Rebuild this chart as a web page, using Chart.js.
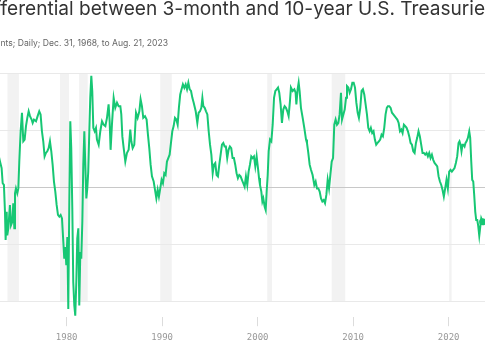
<!DOCTYPE html>
<html>
<head>
<meta charset="utf-8">
<script src="https://cdn.jsdelivr.net/npm/chart.js@4"></script>
<style>
  html, body { margin: 0; padding: 0; background: #fff; }
  body { width: 485px; height: 360px; overflow: hidden; position: relative; }
  #title { position: absolute; top: -1px; white-space: nowrap; font-family: Inter, sans-serif; font-size: 19.1px; line-height: 19px; color: #333; }
  #subtitle { position: absolute; top: 38.5px; white-space: nowrap; font-family: Inter, sans-serif; font-size: 8.6px; line-height: 9px; color: #666; }
  #chart { position: absolute; left: 0; top: 0; }
</style>
</head>
<body>
<canvas id="chart" width="485" height="360"></canvas>
<div id="title"><span id="cut1">Yield dif</span>ferential between 3-month and 10-year U.S. Treasuries</div>
<div id="subtitle"><span id="cut2">Percentage poi</span>nts; Daily; Dec. 31, 1968, to Aug. 21, 2023</div>
<script>
// 10-year minus 3-month spread, percentage points
var years = [
  1972.85, 1973.02, 1973.19, 1973.30, 1973.43, 1973.54, 1973.61, 1973.72, 1973.78, 1973.89,
  1974.06, 1974.17, 1974.31, 1974.41, 1974.52, 1974.59, 1974.69, 1974.83, 1974.94, 1975.04,
  1975.18, 1975.32, 1975.46, 1975.60, 1975.74, 1975.88, 1976.02, 1976.16, 1976.33, 1976.44,
  1976.58, 1976.79, 1976.96, 1977.13, 1977.27, 1977.41, 1977.55, 1977.69, 1977.83, 1977.97,
  1978.11, 1978.25, 1978.39, 1978.53, 1978.67, 1978.81, 1978.95, 1979.09, 1979.23, 1979.37,
  1979.51, 1979.65, 1979.75, 1979.86, 1979.96, 1980.07, 1980.17, 1980.28, 1980.38, 1980.48,
  1980.59, 1980.69, 1980.80, 1980.90, 1981.01, 1981.11, 1981.22, 1981.32, 1981.43, 1981.53,
  1981.64, 1981.74, 1981.85, 1981.95, 1982.06, 1982.16, 1982.26, 1982.37, 1982.47, 1982.58,
  1982.68, 1982.79, 1982.93, 1983.07, 1983.17, 1983.35, 1983.52, 1983.70, 1983.87, 1984.05,
  1984.22, 1984.39, 1984.50, 1984.60, 1984.74, 1984.92, 1985.09, 1985.27, 1985.44, 1985.62,
  1985.72, 1985.83, 1985.97, 1986.14, 1986.31, 1986.49, 1986.66, 1986.77, 1986.91, 1987.08,
  1987.26, 1987.43, 1987.61, 1987.74, 1987.88, 1988.02, 1988.20, 1988.37, 1988.51, 1988.65,
  1988.79, 1988.93, 1989.11, 1989.25, 1989.39, 1989.53, 1989.66, 1989.80, 1989.94, 1990.08,
  1990.22, 1990.36, 1990.50, 1990.64, 1990.78, 1990.92, 1991.06, 1991.20, 1991.34, 1991.48,
  1991.62, 1991.75, 1991.89, 1992.03, 1992.17, 1992.32, 1992.46, 1992.60, 1992.74, 1992.88,
  1993.02, 1993.16, 1993.30, 1993.51, 1993.68, 1993.82, 1993.96, 1994.10, 1994.21, 1994.31,
  1994.45, 1994.59, 1994.73, 1994.87, 1995.01, 1995.15, 1995.29, 1995.42, 1995.56, 1995.70,
  1995.84, 1995.98, 1996.12, 1996.26, 1996.40, 1996.54, 1996.67, 1996.81, 1996.95, 1997.09,
  1997.23, 1997.37, 1997.51, 1997.65, 1997.79, 1997.93, 1998.07, 1998.21, 1998.35, 1998.49,
  1998.63, 1998.77, 1998.91, 1999.05, 1999.19, 1999.33, 1999.47, 1999.61, 1999.75, 1999.89,
  2000.03, 2000.14, 2000.24, 2000.38, 2000.49, 2000.59, 2000.73, 2000.84, 2000.94, 2001.05,
  2001.15, 2001.29, 2001.43, 2001.57, 2001.71, 2001.85, 2001.99, 2002.13, 2002.26, 2002.40,
  2002.54, 2002.68, 2002.82, 2002.96, 2003.10, 2003.24, 2003.38, 2003.48, 2003.66, 2003.84,
  2003.97, 2004.05, 2004.18, 2004.29, 2004.39, 2004.53, 2004.71, 2004.88, 2005.06, 2005.16,
  2005.30, 2005.44, 2005.58, 2005.75, 2005.93, 2006.07, 2006.21, 2006.35, 2006.49, 2006.63,
  2006.77, 2006.91, 2007.05, 2007.19, 2007.33, 2007.47, 2007.61, 2007.75, 2007.89, 2008.02,
  2008.16, 2008.30, 2008.44, 2008.58, 2008.72, 2008.83, 2008.97, 2009.11, 2009.25, 2009.35,
  2009.49, 2009.63, 2009.77, 2009.91, 2010.05, 2010.19, 2010.33, 2010.47, 2010.60, 2010.74,
  2010.88, 2011.02, 2011.16, 2011.30, 2011.44, 2011.58, 2011.72, 2011.85, 2011.99, 2012.13,
  2012.27, 2012.41, 2012.55, 2012.69, 2012.83, 2012.97, 2013.11, 2013.25, 2013.39, 2013.52,
  2013.63, 2013.78, 2013.92, 2014.06, 2014.20, 2014.34, 2014.48, 2014.62, 2014.76, 2014.90,
  2015.04, 2015.17, 2015.31, 2015.45, 2015.59, 2015.73, 2015.87, 2016.01, 2016.15, 2016.29,
  2016.43, 2016.57, 2016.70, 2016.84, 2016.98, 2017.12, 2017.26, 2017.40, 2017.54, 2017.68,
  2017.82, 2017.96, 2018.10, 2018.24, 2018.38, 2018.52, 2018.66, 2018.80, 2018.94, 2019.08,
  2019.22, 2019.35, 2019.49, 2019.63, 2019.77, 2019.91, 2020.05, 2020.19, 2020.33, 2020.47,
  2020.61, 2020.75, 2020.89, 2021.03, 2021.13, 2021.24, 2021.34, 2021.45, 2021.55, 2021.66,
  2021.76, 2021.87, 2022.01, 2022.15, 2022.25, 2022.36, 2022.46, 2022.57, 2022.67, 2022.78,
  2022.88, 2022.99, 2023.09, 2023.20, 2023.30, 2023.41, 2023.55
];
var spread = [
  1.15, 0.90, 0.67, 0.14, 0.08, -0.86, -1.85, -0.86, -1.68, -1.44,
  -0.62, -1.33, -1.21, -0.56, -1.44, -0.21, -0.04, -0.21, -0.04, 0.90,
  1.96, 2.61, 1.61, 1.67, 2.14, 2.43, 2.66, 2.49, 2.37, 2.25,
  2.37, 2.31, 2.49, 2.66, 2.55, 1.96, 1.61, 1.08, 1.20, 1.26,
  1.37, 1.61, 1.26, 0.79, 0.20, -0.15, -0.62, -0.97, -1.03, -0.97,
  -1.09, -1.91, -2.50, -2.09, -2.73, -1.74, -4.26, -0.39, 2.31, 1.37,
  -0.74, -3.32, -4.14, -4.50, -3.32, -1.80, -1.44, -4.14, -2.27, -2.50,
  -1.21, 0.79, 1.96, 0.79, -0.39, -0.04, 0.55, 1.96, 3.13, 3.90,
  3.37, 2.08, 1.96, 2.08, 1.67, 1.49, 1.96, 2.31, 2.19, 2.14,
  2.43, 2.90, 2.31, 1.31, 2.19, 3.13, 2.78, 2.96, 2.84, 2.84,
  2.55, 1.78, 1.37, 0.90, 1.20, 1.31, 2.02, 1.61, 1.37, 1.49,
  2.61, 2.43, 2.66, 3.08, 2.84, 2.43, 2.49, 2.37, 1.84, 1.37,
  0.79, 0.38, 0.20, -0.09, -0.39, -0.09, -0.33, -0.04, 0.26, 0.14,
  0.49, 0.43, 0.90, 1.02, 1.14, 1.55, 1.96, 2.14, 2.43, 2.37,
  2.19, 2.78, 3.25, 3.43, 3.60, 3.48, 3.60, 3.43, 3.66, 3.43,
  3.37, 3.13, 2.96, 2.66, 2.25, 2.61, 2.66, 2.78, 3.13, 2.84,
  2.78, 2.66, 2.55, 1.96, 1.49, 1.14, 0.49, 0.79, 0.85, 0.43,
  0.38, 0.79, 1.14, 1.49, 1.55, 1.43, 1.43, 1.02, 1.31, 1.43,
  1.37, 1.02, 1.02, 0.79, 0.49, 0.32, 0.43, 0.38, 0.26, 0.14,
  0.02, 0.38, 0.08, 0.55, 0.79, 1.08, 1.02, 1.08, 0.73, 1.08,
  0.67, 0.32, 0.08, -0.15, -0.50, -0.39, -0.68, -0.80, -0.15, 0.43,
  1.26, 1.67, 1.61, 2.19, 3.13, 3.37, 3.43, 3.49, 3.31, 2.90,
  2.25, 2.72, 2.84, 2.78, 2.66, 2.49, 3.02, 3.49, 3.37, 3.43,
  3.31, 2.90, 3.43, 3.66, 3.37, 2.78, 2.43, 2.08, 1.67, 1.55,
  1.20, 0.79, 0.61, 0.43, 0.08, 0.20, -0.04, -0.04, -0.15, -0.39,
  -0.50, -0.45, -0.56, -0.27, 0.26, -0.04, 0.43, 0.90, 1.02, 2.19,
  2.37, 2.19, 2.25, 2.55, 3.31, 2.37, 2.55, 2.72, 3.13, 3.54,
  3.49, 3.31, 3.43, 3.66, 3.66, 3.49, 2.96, 2.61, 2.43, 2.78,
  3.37, 3.43, 3.25, 2.90, 2.55, 2.08, 1.96, 2.08, 1.90, 1.96,
  1.67, 1.49, 1.55, 1.61, 1.67, 1.84, 1.78, 2.08, 2.55, 2.78,
  2.84, 2.84, 2.78, 2.61, 2.55, 2.49, 2.43, 2.37, 2.25, 1.96,
  2.02, 1.90, 2.19, 2.14, 2.08, 1.96, 1.78, 1.55, 1.49, 1.26,
  1.20, 1.55, 1.73, 1.96, 1.78, 1.49, 1.20, 1.20, 1.14, 1.20,
  1.08, 1.20, 1.02, 1.14, 0.96, 0.85, 0.79, 0.73, 0.38, 0.20,
  0.08, -0.09, -0.33, -0.04, 0.26, -0.04, 0.55, 0.61, 0.55, 0.61,
  0.67, 0.85, 1.08, 1.55, 1.61, 1.49, 1.26, 1.49, 1.49, 1.43,
  1.55, 1.61, 1.73, 1.96, 1.73, 0.90, 0.26, 0.20, -0.27, -0.86,
  -1.15, -1.15, -1.35, -1.70, -1.40, -1.09, -1.21
];
// recessions (shaded)
var recStart = [1973.8, 1979.3, 1981.3, 1989.8, 2001.0, 2007.75, 2020.05];
var recEnd   = [1975.0, 1980.25, 1982.2, 1991.0, 2001.5, 2009.17, 2020.3];
var tickYears = [1980, 1990, 2000, 2010, 2020];
var gridVals = [-4, -2, 0, 2, 4];

var GREEN = "#17c774";

// push the cut-off parts of the heading outside the picture
document.getElementById("title").style.left = (1 - document.getElementById("cut1").offsetWidth) + "px";
document.getElementById("subtitle").style.left = (0 - document.getElementById("cut2").offsetWidth) + "px";

var points = years.map(function (yr, i) { return { x: yr, y: spread[i] }; });
var last = points.length - 1;

var bands = {
  id: "bands",
  beforeDraw: function (chart) {
    var c = chart.ctx, x = chart.scales.x, y = chart.scales.y;
    var top = y.getPixelForValue(gridVals[gridVals.length - 1]);
    var bot = y.getPixelForValue(gridVals[0]);
    c.save();
    c.fillStyle = "#f2f2f2";
    for (var i = 0; i < recStart.length; i++) {
      var x0 = x.getPixelForValue(recStart[i]);
      var x1 = x.getPixelForValue(recEnd[i]);
      c.fillRect(x0, top, x1 - x0, bot - top);
    }
    c.restore();
  }
};

var ctx = document.getElementById("chart").getContext("2d");
var myChart = new Chart(ctx, {
  type: "line",
  data: {
    datasets: [
      {
        data: points,
        borderColor: GREEN,
        borderWidth: 2,
        tension: 0,
        pointRadius: function (c) { return c.dataIndex === last ? 3.5 : 0; },
        pointBackgroundColor: GREEN,
        pointBorderWidth: 0
      }
    ]
  },
  options: {
    responsive: false,
    animation: false,
    layout: { autoPadding: false, padding: { top: 73, bottom: 11, left: 0, right: 0 } },
    plugins: { legend: { display: false }, tooltip: { enabled: false } },
    scales: {
      x: {
        type: "linear",
        min: 1973.02,
        max: 2023.8,
        afterBuildTicks: function (s) { s.ticks = tickYears.map(function (v) { return { value: v }; }); },
        grid: { drawOnChartArea: false, tickLength: 9, color: "#dcdcdc" },
        border: { display: false },
        ticks: {
          padding: 6,
          color: "#999",
          maxRotation: 0,
          font: { family: "DejaVu Sans Mono", size: 9 },
          callback: function (v) { return String(v); }
        }
      },
      y: {
        min: -4.55,
        max: 4,
        afterBuildTicks: function (s) { s.ticks = gridVals.map(function (v) { return { value: v }; }); },
        ticks: { display: false },
        grid: {
          drawTicks: false,
          color: function (c) { return c.tick && c.tick.value === 0 ? "#c8c8c8" : "#e9e9e9"; }
        },
        border: { display: false }
      }
    }
  },
  plugins: [bands]
});
</script>
</body>
</html>
